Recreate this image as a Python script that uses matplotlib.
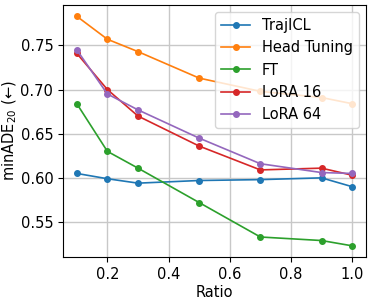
import numpy as np
import matplotlib.pyplot as plt

# Data
ratio = [0.1, 0.2, 0.3, 0.5, 0.7, 0.9, 1.0]
trajicl = [0.605, 0.599, 0.594, 0.597, 0.598, 0.600, 0.590]
head_tuning = [0.783, 0.757, 0.743, 0.713, 0.698, 0.691, 0.684]
ft = [0.684, 0.630, 0.611, 0.572, 0.533, 0.529, 0.523]
lora16 = [0.741, 0.700, 0.670, 0.636, 0.609, 0.611, 0.603]
lora64 = [0.745, 0.695, 0.677, 0.645, 0.616, 0.606, 0.605]

fig, ax = plt.subplots(figsize=(3.73, 3.02), dpi=100)
fig.subplots_adjust(left=0.169, right=0.981, top=0.984, bottom=0.148)

style = dict(marker="o", markersize=4, linewidth=1.2)
ax.plot(ratio, trajicl, label="TrajICL", **style)
ax.plot(ratio, head_tuning, label="Head Tuning", **style)
ax.plot(ratio, ft, label="FT", **style)
ax.plot(ratio, lora16, label="LoRA 16", **style)
ax.plot(ratio, lora64, label="LoRA 64", **style)

ax.set_xlabel("Ratio", fontsize=10.5, labelpad=2)
ax.set_ylabel("minADE$_{20}$ (←)", fontsize=10.5, labelpad=1)
ax.tick_params(labelsize=10.5)
ax.set_xticks([0.2, 0.4, 0.6, 0.8, 1.0])
ax.set_yticks([0.55, 0.60, 0.65, 0.70, 0.75])
ax.grid(True, color="#c8c8c8", linewidth=1.0)
ax.legend(loc="upper right", fontsize=10.5)

plt.savefig("out.png", dpi=100)
